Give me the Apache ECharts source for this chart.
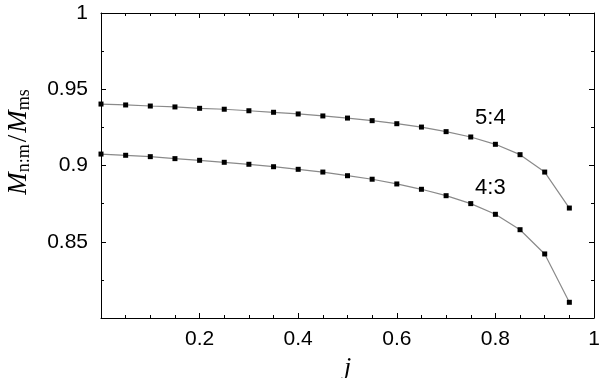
<!DOCTYPE html>
<html>
<head>
<meta charset="utf-8">
<script src="https://cdn.jsdelivr.net/npm/echarts@6/dist/echarts.min.js"></script>
<style>html,body{margin:0;padding:0;background:#fff}#c{width:600px;height:378px}</style>
</head>
<body>
<div id="c"></div>
<script>
var jValues = [0, 0.05, 0.1, 0.15, 0.2, 0.25, 0.3, 0.35, 0.4, 0.45, 0.5, 0.55, 0.6, 0.65, 0.7, 0.75, 0.8, 0.85, 0.9, 0.95];
var series54 = [0.9403, 0.9397, 0.9390, 0.9384, 0.9375, 0.9369, 0.9359, 0.9349, 0.9338, 0.9325, 0.9311, 0.9294, 0.9274, 0.9252, 0.9222, 0.9187, 0.9139, 0.9071, 0.8957, 0.8721];
var series43 = [0.9075, 0.9067, 0.9058, 0.9045, 0.9034, 0.9021, 0.9008, 0.8992, 0.8975, 0.8957, 0.8933, 0.8910, 0.8879, 0.8844, 0.8802, 0.8750, 0.8680, 0.8579, 0.8420, 0.8103];
var seriesNames = ['5:4', '4:3'];
var labelIndex = 16;

function build(vals, name) {
  return vals.map(function (v, i) {
    var item = { value: [jValues[i], v] };
    if (i === labelIndex) {
      item.label = {
        show: true, formatter: name, position: 'inside', offset: [-5, -26],
        fontFamily: 'Liberation Sans', fontSize: 22, color: '#000'
      };
    }
    return item;
  });
}

var chart = echarts.init(document.getElementById('c'));
var axisCommon = {
  axisLine: { show: true, onZero: false, lineStyle: { color: '#000', width: 1 } },
  axisTick: { show: true, inside: true, length: 5, lineStyle: { color: '#000' } },
  minorTick: { show: true, length: 3, lineStyle: { color: '#000' } },
  splitLine: { show: false }
};
var labelStyle = { fontFamily: 'Liberation Sans', fontSize: 21, color: '#000' };

chart.setOption({
  animation: false,
  grid: { left: 101, right: 6, top: 13, bottom: 60, containLabel: false, outerBoundsMode: 'none' },
  xAxis: [
    Object.assign({}, axisCommon, {
      type: 'value', min: 0, max: 1, interval: 0.2, position: 'bottom',
      minorTick: Object.assign({ splitNumber: 4 }, axisCommon.minorTick),
      axisLabel: Object.assign({ showMinLabel: false, margin: 11 }, labelStyle),
      name: 'j', nameLocation: 'middle', nameGap: 33,
      nameTextStyle: { fontFamily: 'Liberation Serif', fontStyle: 'italic', fontSize: 26, color: '#000' }
    }),
    Object.assign({}, axisCommon, {
      type: 'value', min: 0, max: 1, interval: 0.2, position: 'top',
      minorTick: Object.assign({ splitNumber: 4 }, axisCommon.minorTick),
      axisLabel: { show: false }
    })
  ],
  yAxis: [
    Object.assign({}, axisCommon, {
      type: 'value', min: 0.8, max: 1, interval: 0.05, position: 'left',
      minorTick: Object.assign({ splitNumber: 2 }, axisCommon.minorTick),
      axisLabel: Object.assign({ showMinLabel: false, margin: 13 }, labelStyle)
    }),
    Object.assign({}, axisCommon, {
      type: 'value', min: 0.8, max: 1, interval: 0.05, position: 'right',
      minorTick: Object.assign({ splitNumber: 2 }, axisCommon.minorTick),
      axisLabel: { show: false }
    })
  ],
  graphic: [{
    type: 'text', x: 19, y: 142, rotation: Math.PI / 2,
    style: {
      text: '{M|M}{s|n:m}{sl|/}{M|M}{s|ms}',
      align: 'center', verticalAlign: 'middle',
      rich: {
        M: { fontFamily: 'Liberation Serif', fontStyle: 'italic', fontSize: 27, lineHeight: 28, fill: '#000' },
        sl: { fontFamily: 'Liberation Serif', fontSize: 27, lineHeight: 28, fill: '#000', padding: [0, 2, 0, 2] },
        s: { fontFamily: 'Liberation Serif', fontSize: 18, lineHeight: 8, verticalAlign: 'bottom', fill: '#000' }
      }
    }
  }],
  series: [
    {
      name: seriesNames[0], type: 'line', data: build(series54, seriesNames[0]),
      symbol: 'rect', symbolSize: 5, itemStyle: { color: '#000' },
      lineStyle: { color: '#8a8a8a', width: 1.2 }
    },
    {
      name: seriesNames[1], type: 'line', data: build(series43, seriesNames[1]),
      symbol: 'rect', symbolSize: 5, itemStyle: { color: '#000' },
      lineStyle: { color: '#8a8a8a', width: 1.2 }
    }
  ]
});
</script>
</body>
</html>
